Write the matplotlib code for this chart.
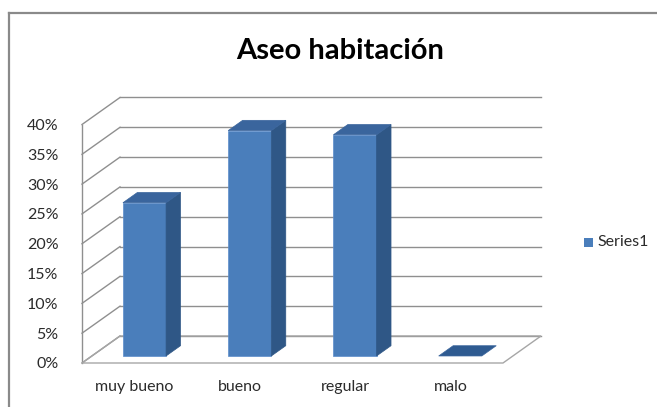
import matplotlib
matplotlib.use('Agg')
import matplotlib.pyplot as plt
from matplotlib.patches import Polygon, Rectangle
from matplotlib.lines import Line2D

# Survey results
categories = ['muy bueno', 'bueno', 'regular', 'malo']
values = [25.7, 37.8, 37.1, 0.0]
yticks = [0, 5, 10, 15, 20, 25, 30, 35, 40]
series_name = 'Series1'
title = 'Aseo habitación'

plt.rcParams['font.family'] = ['Lato', 'DejaVu Sans']

W, H = 657, 407
fig = plt.figure(figsize=(W / 100, H / 100), dpi=100)

# front plane of the 3D box: x in category units, y in percent
ax = fig.add_axes([82 / W, 1 - 363 / H, 421 / W, (363 - 124.5) / H])
ax.set_xlim(-0.5, len(categories) - 0.5)
ax.set_ylim(0, 40)
for s in ax.spines.values():
    s.set_visible(False)
ax.patch.set_visible(False)

# oblique depth vector (category units, percent units)
DX, DY = 0.361, 4.53


def proj(x, y, d):
    return (x + d * DX, y + d * DY)


grid_col = '#8f8f8f'
x0, x1 = -0.5, len(categories) - 0.5

# back wall and left wall gridlines
for t in yticks:
    bx0, by = proj(x0, t, 1)
    bx1, _ = proj(x1, t, 1)
    ax.plot([bx0, bx1], [by, by], color=grid_col, lw=1.0, clip_on=False, zorder=1)
    fx, fy = proj(x0, t, 0)
    ax.plot([fx, bx0], [fy, by], color=grid_col, lw=1.0, clip_on=False, zorder=1)

# left wall front edge
ax.plot([x0, x0], [0, 40], color=grid_col, lw=1.0, clip_on=False, zorder=1)

# floor outline
floor = [proj(x0, 0, 0), proj(x1, 0, 0), proj(x1, 0, 1), proj(x0, 0, 1)]
ax.add_patch(Polygon(floor, closed=True, fill=False, edgecolor='#a6a6a6',
                     lw=1.0, clip_on=False, zorder=1))

# columns
front_col = '#4a7ebb'
side_col = '#2f5786'
top_col = '#3a659d'
hw = 0.205
d0, d1 = 0.26, 0.64
for i, v in enumerate(values):
    l, r = i - hw, i + hw
    if v > 0:
        front = [proj(l, 0, d0), proj(r, 0, d0), proj(r, v, d0), proj(l, v, d0)]
        side = [proj(r, 0, d0), proj(r, 0, d1), proj(r, v, d1), proj(r, v, d0)]
        ax.add_patch(Polygon(front, closed=True, facecolor=front_col,
                             edgecolor='#5b8ccb', lw=0.5, clip_on=False, zorder=3))
        ax.add_patch(Polygon(side, closed=True, facecolor=side_col,
                             edgecolor=side_col, lw=0.5, clip_on=False, zorder=3))
    top = [proj(l, v, d0), proj(r, v, d0), proj(r, v, d1), proj(l, v, d1)]
    ax.add_patch(Polygon(top, closed=True, facecolor=top_col if v > 0 else '#2f5b91',
                         edgecolor=top_col, lw=0.5, clip_on=False, zorder=4))

# axis labels
ax.set_yticks(yticks)
ax.set_yticklabels([f'{t}%' for t in yticks])
ax.set_xticks(range(len(categories)))
ax.set_xticklabels(categories)
ax.tick_params(axis='both', length=0, labelsize=11.5, colors='#2b2b2b')
ax.tick_params(axis='y', pad=17)
ax.tick_params(axis='x', pad=12)

fig.text(340 / W, 1 - 51 / H, title, ha='center', va='center',
         fontsize=21, fontweight='bold', color='black')

# legend
fig.add_artist(Rectangle((584 / W, 1 - 247 / H), 9 / W, 9 / H,
                         transform=fig.transFigure, facecolor=front_col,
                         edgecolor='none'))
fig.text(597 / W, 1 - 242.5 / H, series_name, ha='left', va='center',
         fontsize=11.5, color='#2b2b2b')

# chart border (left and top edges)
fig.add_artist(Line2D([9 / W, 9 / W], [0, 1 - 13 / H], transform=fig.transFigure,
                      color='#8a8a8a', lw=1.6))
fig.add_artist(Line2D([9 / W, 1], [1 - 13 / H, 1 - 13 / H], transform=fig.transFigure,
                      color='#8a8a8a', lw=1.6))

fig.savefig('out.png', dpi=100)
